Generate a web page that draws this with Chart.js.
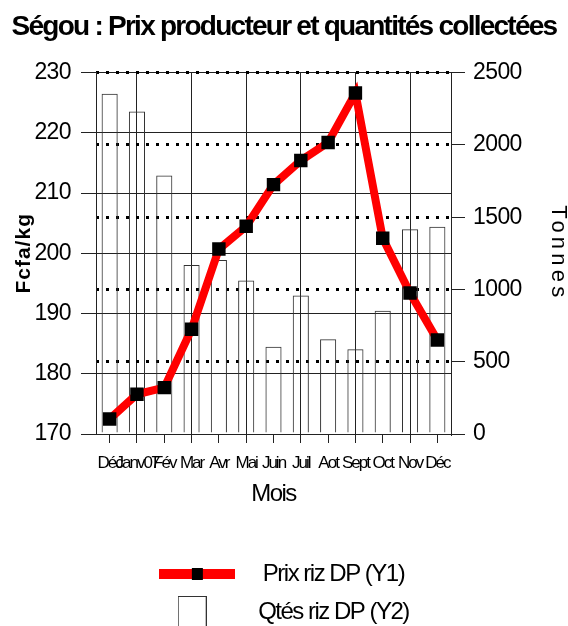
<!DOCTYPE html>
<html lang="fr">
<head>
<meta charset="utf-8">
<title>Ségou : Prix producteur et quantités collectées</title>
<script src="https://cdn.jsdelivr.net/npm/chart.js@4.4.1/dist/chart.umd.min.js"></script>
<style>
  html, body { margin: 0; padding: 0; background: #fff; overflow: hidden; }
  #wrap { position: relative; width: 568px; height: 626px; }
</style>
</head>
<body>
<div id="wrap"><canvas id="chartSegou"></canvas></div>
<script>
/* ============================================================
   Ségou — producer price (line, Y1) and collected tonnes (bars, Y2)
   ============================================================ */

// ---------------------------------------------------------------------------
// Data
// ---------------------------------------------------------------------------
const months = ["Déc", "Janv07", "Fév", "Mar", "Avr", "Mai", "Juin", "Juil", "Aot", "Sept", "Oct", "Nov", "Déc"];
const prixRiz = [172.5, 176.6, 177.7, 187.4, 200.7, 204.5, 211.4, 215.4, 218.4, 226.6, 202.5, 193.4, 185.6];
const qtesRiz = [2353, 2231, 1789, 1169, 1204, 1061, 603, 958, 656, 587, 852, 1416, 1434];

const priceTicks = { min: 170, max: 230, step: 10 };
const tonnesTicks = { min: 0, max: 2500, step: 500 };

const legendNames = ["Prix riz DP (Y1)", "Qtés riz DP (Y2)"];

// ---------------------------------------------------------------------------
// Text: the original uses very uneven letter spacing, keyed here by font size
// ---------------------------------------------------------------------------
const SPACING_BY_SIZE = { 17: -2, 21: 1, 22: 4.2, 23: -0.6, 24: -1.5, 28: -1.75 };

function tightenText(ctx) {
  const fontProp = Object.getOwnPropertyDescriptor(CanvasRenderingContext2D.prototype, "font");
  Object.defineProperty(ctx, "font", {
    get() { return fontProp.get.call(ctx); },
    set(value) {
      fontProp.set.call(ctx, value);
      const size = parseFloat((/(\d+(?:\.\d+)?)px/.exec(value) || [])[1]);
      ctx.letterSpacing = (SPACING_BY_SIZE[size] || 0) + "px";
    },
  });
}

// ---------------------------------------------------------------------------
// Legend swatches (red line with square marker, empty box)
// ---------------------------------------------------------------------------
function lineSwatch() {
  const c = document.createElement("canvas");
  c.width = 76;
  c.height = 12;
  const g = c.getContext("2d");
  g.fillStyle = "#ff0000";
  g.fillRect(0, 1, 76, 10);
  g.fillStyle = "#000";
  g.fillRect(33, 0, 11, 12);
  return c;
}

function boxSwatch() {
  const c = document.createElement("canvas");
  c.width = 29;
  c.height = 32;
  const g = c.getContext("2d");
  g.fillStyle = "#fff";
  g.fillRect(0, 0, 29, 32);
  g.strokeStyle = "#333";
  g.lineWidth = 1;
  g.strokeRect(0.5, 0.5, 28, 31);
  return c;
}

Chart.defaults.color = "#000";
Chart.defaults.font.family = "'Liberation Sans', Arial, sans-serif";

// ---------------------------------------------------------------------------
// Chart
// ---------------------------------------------------------------------------
const canvas = document.getElementById("chartSegou");
tightenText(canvas.getContext("2d"));

const swatches = [lineSwatch(), boxSwatch()];
const plain = (value) => String(value);

new Chart(canvas, {
  type: "bar",
  data: {
    labels: months,
    datasets: [
      {
        type: "line",
        label: legendNames[0],
        data: prixRiz,
        yAxisID: "y",
        order: 0,
        borderColor: "#ff0000",
        borderWidth: 8,
        tension: 0,
        pointStyle: "rect",
        pointRadius: 9.5,
        pointBackgroundColor: "#000",
        pointBorderWidth: 0,
      },
      {
        type: "bar",
        label: legendNames[1],
        data: qtesRiz,
        yAxisID: "y2",
        order: 1,
        backgroundColor: "rgba(255,255,255,0)",
        borderColor: "#333",
        borderWidth: 1,
        barPercentage: 0.59,
        categoryPercentage: 1,
      },
    ],
  },
  options: {
    responsive: true,
    maintainAspectRatio: false,
    animation: false,
    layout: { padding: { left: 0, right: 0, top: 0, bottom: -8 } },
    plugins: {
      title: {
        display: true,
        text: "Ségou : Prix producteur et quantités collectées",
        font: { size: 28, weight: "bold", lineHeight: 1.2 },
        padding: { top: 10, bottom: 29 },
      },
      legend: {
        position: "bottom",
        fullSize: false,
        labels: {
          font: { size: 24 },
          padding: 14,
          usePointStyle: true,
          pointStyleWidth: 108,
          generateLabels: () =>
            legendNames.map((name, i) => ({
              text: name,
              pointStyle: swatches[i],
              fillStyle: "#fff",
              strokeStyle: "#000",
              lineWidth: 0,
              hidden: false,
              fontColor: "#000",
              datasetIndex: i,
            })),
        },
      },
      tooltip: { enabled: false },
    },
    scales: {
      x: {
        offset: true,
        grid: {
          offset: false,
          color: (ctx) => (ctx.index % 2 === 1 ? "#222" : "rgba(0,0,0,0)"),
          tickColor: "#222",
          tickLength: 9,
          lineWidth: 1,
        },
        border: { display: true, color: "#222" },
        ticks: { autoSkip: false, maxRotation: 0, minRotation: 0, padding: 10, font: { size: 17 } },
        title: { display: true, text: "Mois", font: { size: 24 }, padding: { top: 0, bottom: 39 } },
        afterFit: (scale) => { scale.height = 114; },
      },
      y: {
        position: "left",
        min: priceTicks.min,
        max: priceTicks.max,
        ticks: { stepSize: priceTicks.step, padding: 10, font: { size: 23 }, callback: plain },
        grid: { color: "#222", tickLength: 15, lineWidth: 1 },
        border: { display: true, color: "#222" },
        title: { display: true, text: "Fcfa/kg", font: { size: 21, weight: "bold" }, padding: { top: 12, bottom: 0 } },
        afterFit: (scale) => { scale.width = 96; },
      },
      y2: {
        position: "right",
        min: tonnesTicks.min,
        max: tonnesTicks.max,
        ticks: { stepSize: tonnesTicks.step, padding: 8, font: { size: 23 }, callback: plain },
        grid: {
          color: (ctx) => (ctx.tick && ctx.tick.value === 0 ? "rgba(0,0,0,0)" : "#000"),
          lineWidth: 3,
          tickColor: "#222",
          tickWidth: 1,
          tickBorderDash: [],
          tickLength: 14,
        },
        // in Chart.js v4 the grid line dash lives on the border options
        border: { display: true, color: "#222", width: 1, dash: [3, 7] },
        title: { display: true, text: "Tonnes", font: { size: 22, lineHeight: 0.9 }, padding: 0 },
        afterFit: (scale) => { scale.width = 117; },
      },
    },
  },
});
</script>
</body>
</html>
